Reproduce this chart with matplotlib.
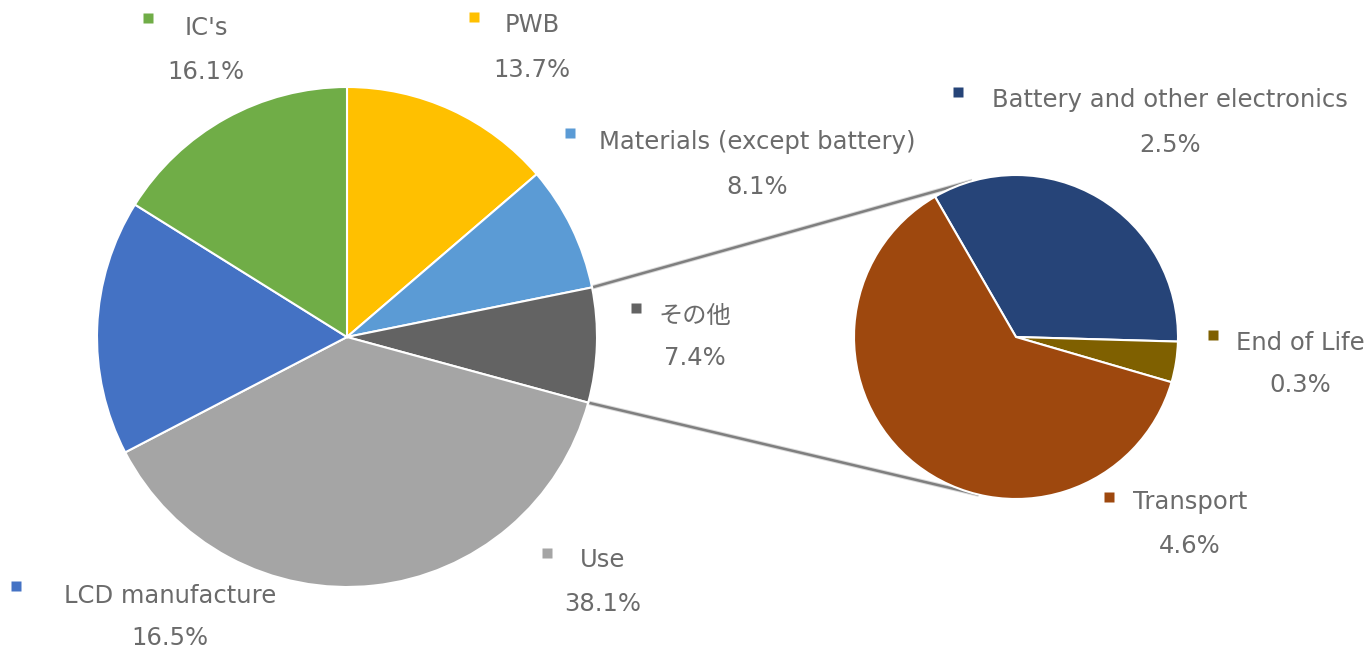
import numpy as np
import matplotlib
matplotlib.use("Agg")
import matplotlib.pyplot as plt

plt.rcParams["font.family"] = ["DejaVu Sans", "Noto Sans CJK JP"]

W, H = 1370, 654

main_labels = ["PWB", "Materials (except battery)", "その他", "Use", "LCD manufacture", "IC's"]
main_values = [13.7, 8.1, 7.4, 38.1, 16.5, 16.1]
main_colors = ["#FFC000", "#5B9BD5", "#636363", "#A5A5A5", "#4472C4", "#70AD47"]

sub_labels = ["Battery and other electronics", "End of Life", "Transport"]
sub_values = [2.5, 0.3, 4.6]
sub_colors = ["#264478", "#7F6000", "#9E480E"]

# label layout in pixel coords: marker (x, y), text centre x, name y, pct y
main_label_pos = [
    ((474, 17), 532, 25, 70),
    ((570, 133), 757, 142, 187),
    ((636, 308), 695, 316, 358),
    ((547, 553), 603, 560, 604),
    ((16, 586), 170, 596, 638),
    ((148, 18), 206, 28, 72),
]
sub_label_pos = [
    ((958, 92), 1170, 100, 145),
    ((1213, 335), 1300, 343, 385),
    ((1109, 497), 1190, 502, 546),
]

MAIN_C, MAIN_R = (347, 337), 250
SUB_C, SUB_R = (1016, 337), 162
TXT = "#6b6b6b"


def Y(py):
    return H - py


fig = plt.figure(figsize=(W / 100, H / 100), dpi=100)
ax = fig.add_axes([0, 0, 1, 1])

wp = dict(edgecolor="white", linewidth=1.5)
ax.pie(main_values, colors=main_colors, startangle=90, counterclock=False,
       center=(MAIN_C[0], Y(MAIN_C[1])), radius=MAIN_R, wedgeprops=wp)
ax.pie(sub_values, colors=sub_colors, startangle=120, counterclock=False,
       center=(SUB_C[0], Y(SUB_C[1])), radius=SUB_R, wedgeprops=wp)

# connector lines: from the edges of the "その他" wedge, tangent to the sub pie
total = sum(main_values)
a0 = 90 - 360 * sum(main_values[:2]) / total
a1 = a0 - 360 * main_values[2] / total
cx, cy = MAIN_C[0], Y(MAIN_C[1])
sx, sy = SUB_C[0], Y(SUB_C[1])
for ang, sign in [(a0, -1), (a1, 1)]:
    px = cx + MAIN_R * np.cos(np.radians(ang))
    py = cy + MAIN_R * np.sin(np.radians(ang))
    d = np.hypot(px - sx, py - sy)
    base = np.degrees(np.arctan2(py - sy, px - sx))
    t = base + sign * np.degrees(np.arccos(SUB_R / d))
    tx = sx + SUB_R * np.cos(np.radians(t))
    ty = sy + SUB_R * np.sin(np.radians(t))
    ax.plot([px, tx], [py, ty], color="#d9d9d9", lw=3.2, solid_capstyle="butt", zorder=0.5)
    ax.plot([px, tx], [py, ty], color="#7f7f7f", lw=1.8, solid_capstyle="butt", zorder=0.6)


def put_labels(labels, values, colors, positions):
    for lab, val, col, (mk, tx, ny, py) in zip(labels, values, colors, positions):
        ax.plot(mk[0], Y(mk[1]), marker="s", ms=6.5, color=col, mec="none")
        ax.text(tx, Y(ny), lab, ha="center", va="center", fontsize=17.5, color=TXT)
        ax.text(tx, Y(py), f"{val:.1f}%", ha="center", va="center", fontsize=17.5, color=TXT)


put_labels(main_labels, main_values, main_colors, main_label_pos)
put_labels(sub_labels, sub_values, sub_colors, sub_label_pos)

ax.set_xlim(0, W)
ax.set_ylim(0, H)
ax.set_aspect("equal")
ax.axis("off")
fig.savefig("out.png", dpi=100, facecolor="white")
